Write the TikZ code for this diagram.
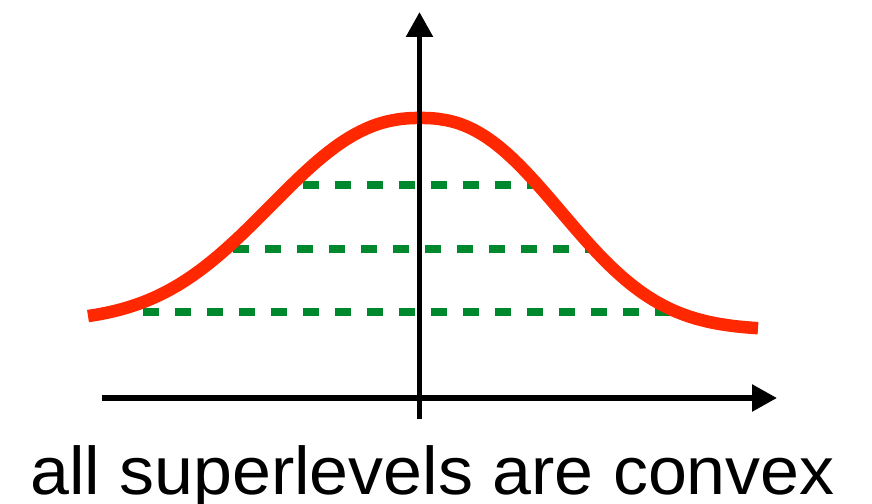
\documentclass[tikz,border=0pt]{standalone}
\usepackage{fontspec}
\setmainfont{Liberation Sans}[FakeStretch=1.036]
\usetikzlibrary{arrows.meta}
\definecolor{curvered}{RGB}{255,40,0}
\definecolor{levelgreen}{RGB}{0,136,46}
\begin{document}
\begin{tikzpicture}[x=1pt,y=-1pt,
  axisline/.style={black, line width=5.5pt, -{Triangle[length=25pt,width=26pt]}},
  levelline/.style={levelgreen, line width=8pt, dash pattern=on 16pt off 16pt},
  bellcurve/.style={curvered, line width=12.5pt, line join=round}]
\useasboundingbox (0,0) rectangle (872,503);
% level lines
\coordinate (l1a) at (303.3,185);
\coordinate (l1b) at (533,185);
\coordinate (l2a) at (233.3,249);
\coordinate (l2b) at (597,249);
\coordinate (l3a) at (143,312.3);
\coordinate (l3b) at (672,312.3);
\draw[levelline] (l1a) -- (l1b);
\draw[levelline] (l2a) -- (l2b);
\draw[levelline] (l3a) -- (l3b);
% bell curve
\draw[bellcurve]
  plot[domain=88:420, samples=90, variable=\t]
    (\t, {322-204*exp(-((420.001-\t)/191.7)^2.3)})
  -- plot[domain=420:758, samples=90, variable=\t]
    (\t, {330-212*exp(-((\t-419.999)/176.5)^2.4)});
% axes
\coordinate (ybot) at (419.5,419);
\coordinate (ytop) at (419.5,12);
\coordinate (xleft) at (101.5,398);
\coordinate (xright) at (777,398);
\draw[axisline] (xleft) -- (xright);
\draw[axisline] (ybot) -- (ytop);
% caption
\node[font=\fontsize{67.5}{80}\selectfont, anchor=base, inner sep=0pt] (caption) at (432.5,494.5) {all superlevels are convex};
\end{tikzpicture}
\end{document}
